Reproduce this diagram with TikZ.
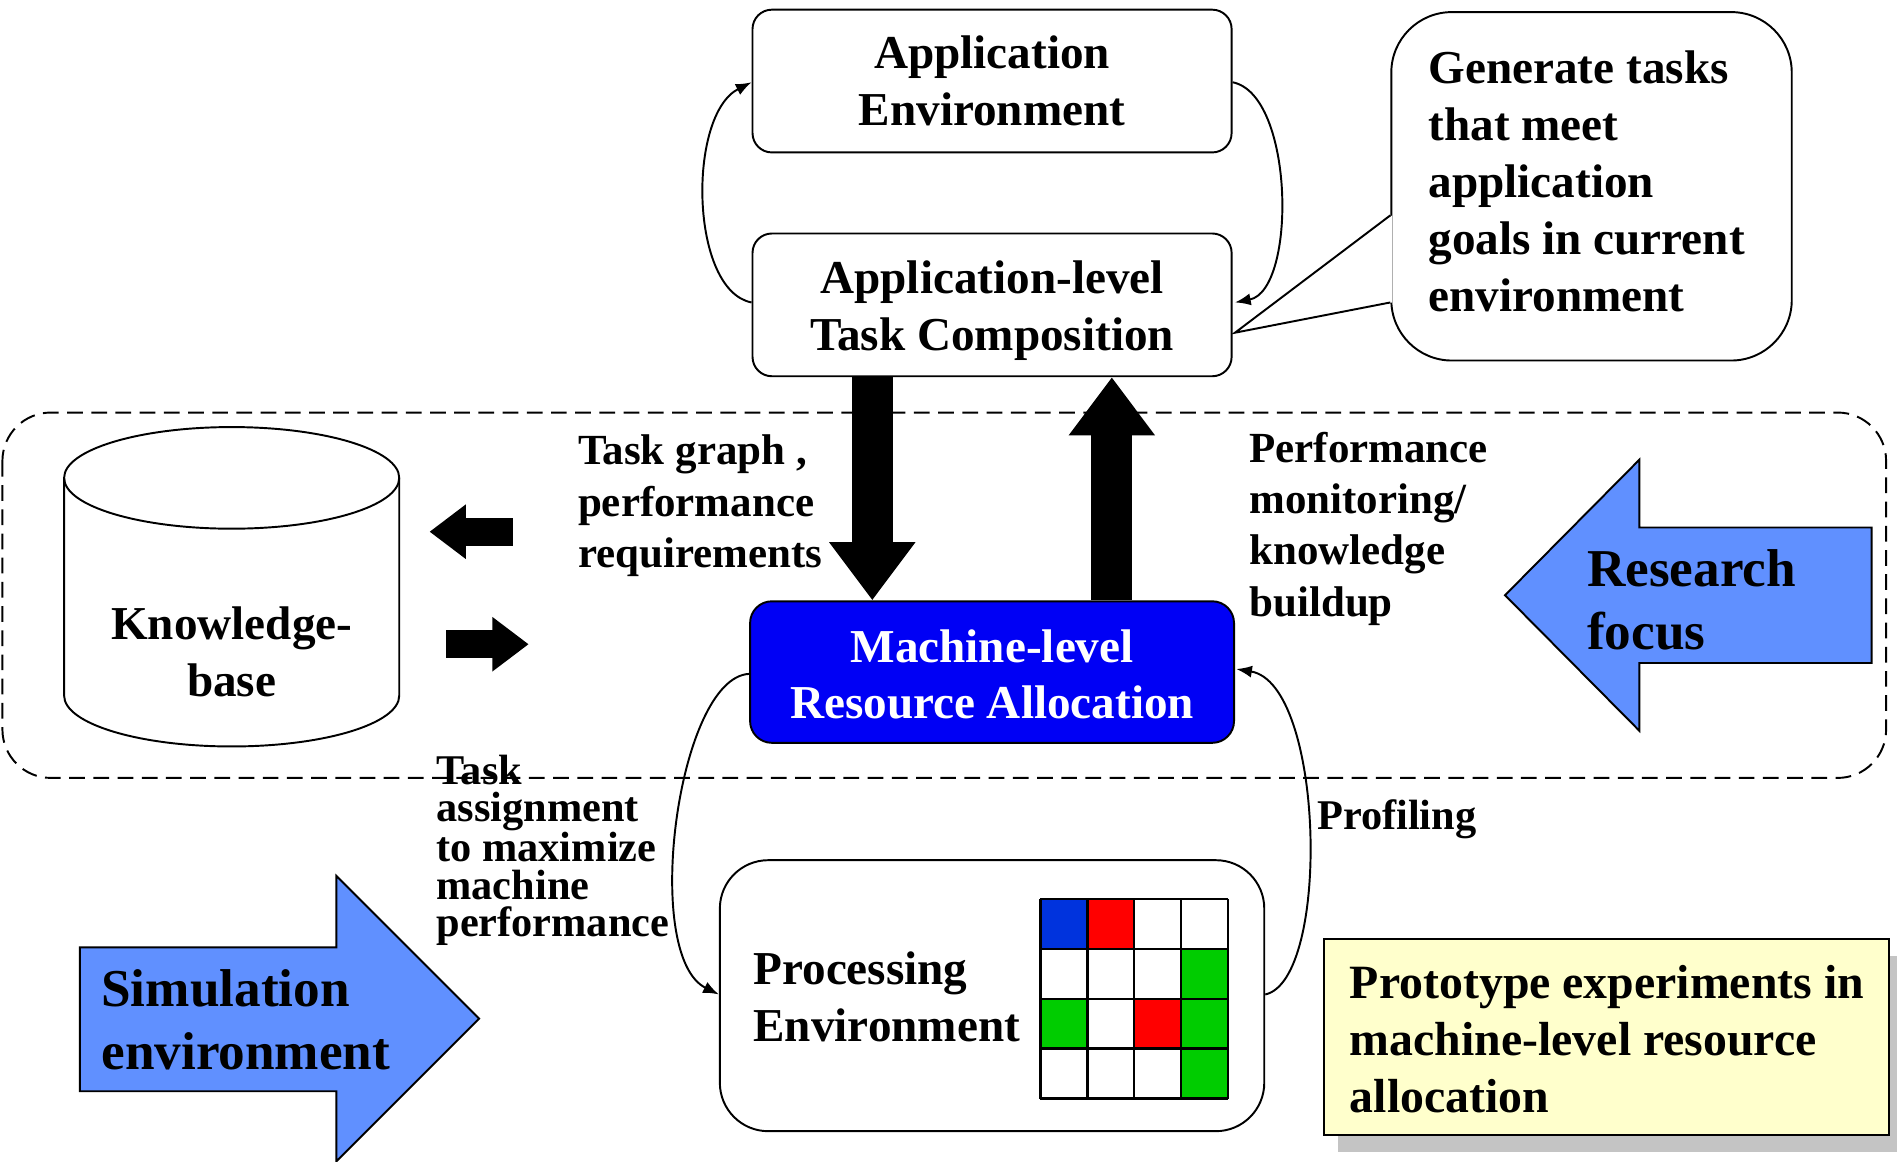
\documentclass[tikz,border=0pt]{standalone}
\usepackage{fontspec}
\setmainfont{Liberation Serif}
\usetikzlibrary{arrows.meta,calc}

\definecolor{focusblue}{RGB}{96,144,255}
\definecolor{machblue}{RGB}{0,0,245}
\definecolor{cellblue}{RGB}{0,51,221}
\definecolor{cellred}{RGB}{255,0,0}
\definecolor{cellgreen}{RGB}{0,204,0}
\definecolor{noteyellow}{RGB}{255,255,204}
\definecolor{shadowgray}{RGB}{196,196,196}

% type sizes (1 unit = 1pt)
\newcommand\txtA{\fontsize{39}{47}\selectfont\bfseries}
\newcommand\txtB{\fontsize{35.5}{42.5}\selectfont\bfseries}
\newcommand\txtC{\fontsize{35}{31}\selectfont\bfseries}
\newcommand\txtD{\fontsize{44}{52.5}\selectfont\bfseries}

\begin{document}
\begin{tikzpicture}[x=1pt,y=-1pt,line width=1.6pt,
  rbox/.style={draw,fill=white,align=center,inner sep=0pt,font=\txtA},
  txtnode/.style={anchor=west,align=left,inner sep=0pt},
  conn/.style={line width=1.6pt,-{Latex[length=13pt,width=10pt]}},
  bigarrow/.style={line width=34pt,-{Triangle[length=48pt,width=68pt]}},
  smallarrow/.style={line width=23pt,-{Triangle[length=30pt,width=43pt]}},
  bluearrow/.style={draw,fill=focusblue,line width=1.6pt,line join=miter},
]
\useasboundingbox (0,0) rectangle (1568,960);

% research-focus region
\draw[dash pattern=on 13pt off 7pt,rounded corners=40pt] (2,341) rectangle (1559,643);

% application layer
\node[rbox,rounded corners=16pt,minimum width=396pt,minimum height=118pt] (ae) at (820,67) {Application\\Environment};
\node[rbox,rounded corners=16pt,minimum width=396pt,minimum height=118pt] (tc) at (820,252) {};
\node[align=center,inner sep=0pt,font=\txtA] (tct) at (820,257) {Application-level\\Task Composition};

% machine layer
\node[rbox,fill=machblue,text=white,rounded corners=18pt,minimum width=400pt,minimum height=117pt] (mr) at (820,555.5) {};
\node[align=center,inner sep=0pt,font=\txtA,text=white] (mrt) at (820,557.5) {Machine-level\\Resource Allocation};

% processing environment
\node[draw,fill=white,rounded corners=40pt,minimum width=450pt,minimum height=224pt,inner sep=0pt] (pe) at (820,823) {};
\node[txtnode,font=\txtA] (pet) at (622,824) {Processing\\Environment};

% processor grid
\foreach \c/\r/\col in {0/0/cellblue,1/0/cellred,3/1/cellgreen,0/2/cellgreen,2/2/cellred,3/2/cellgreen,3/3/cellgreen}
  \fill[\col] ({860+\c*38.75},{743+\r*41.25}) rectangle ++(38.75,41.25);
\foreach \i in {0,...,4} {
  \draw[line width=2pt] ({860+\i*38.75},743) -- ++(0,165);
  \draw[line width=2pt] (860,{743+\i*41.25}) -- ++(155,0);
}

% loops between layers
\draw[conn] (tc.west |- 0,250) .. controls (570,240) and (568,95) .. (ae.west |- 0,68);
\draw[conn] (ae.east |- 0,68) .. controls (1070,78) and (1072,240) .. ($(tc.east |- 0,250)+(2,0)$);
\draw[conn] (mr.west |- 0,557) .. controls (560,560) and (530,790) .. (pe.west |- 0,822);
\draw[conn] (pe.east |- 0,822) .. controls (1100,810) and (1095,565) .. ($(mr.east |- 0,553)+(1,0)$);

% main data flow arrows
\draw[bigarrow] ($(tc.south)+(-99,0)$) -- ($(mr.north)+(-99,0)$);
\draw[bigarrow] ($(mr.north)+(99,0)$) -- ($(tc.south)+(99,0)$);

% knowledge base
\fill[white] (53,395) -- (53,575) arc[start angle=180,end angle=360,x radius=138.5pt,y radius=42pt] -- (330,395) -- cycle;
\draw (53,395) -- (53,575) arc[start angle=180,end angle=360,x radius=138.5pt,y radius=42pt] -- (330,395);
\draw (191.5,395) ellipse[x radius=138.5pt,y radius=42pt];
\node[align=center,inner sep=0pt,font=\txtA] (kb) at (191.5,539) {Knowledge-\\base};

\coordinate (kin0) at (424,439.5);
\coordinate (kin1) at (355,439.5);
\coordinate (kout0) at (369,532.5);
\coordinate (kout1) at (437,532.5);
\draw[smallarrow] (kin0) -- (kin1);
\draw[smallarrow] (kout0) -- (kout1);

% flow labels
\node[txtnode,font=\txtB] (lbl1) at (477,418) {Task graph ,\\performance\\requirements};
\node[txtnode,font=\txtB] (lbl2) at (1032,437) {Performance\\monitoring/\\knowledge\\buildup};
\node[txtnode,font=\txtC] (lbl3) at (360,703) {Task\\assignment\\to maximize\\machine\\performance};
\node[txtnode,font=\txtC] (lbl4) at (1088,677) {Profiling};

% callout
\node[draw,fill=white,rounded corners=50pt,minimum width=331pt,minimum height=288pt,inner sep=0pt] (gen) at (1315.5,154) {};
\fill[white] ($(gen.west)+(1.5,24)$) -- ($(tc.east)+(2,23)$) -- ($(gen.west)+(1.5,96)$) -- cycle;
\draw[line join=miter] ($(gen.west)+(0,24)$) -- ($(tc.east)+(2,23)$) -- ($(gen.west)+(0,96)$);
\node[txtnode,font=\txtA] (gent) at (1180,150) {Generate tasks\\that meet\\application\\goals in current\\environment};

% block arrows
\draw[bluearrow] (1547,436) -- (1355,436) -- (1355,380) -- (1244,492) -- (1355,604) -- (1355,548) -- (1547,548) -- cycle;
\node[txtnode,font=\txtD] (rf) at (1311,496) {Research\\focus};
\draw[bluearrow] (66,783) -- (278,783) -- (278,724) -- (396,842) -- (278,960) -- (278,902) -- (66,902) -- cycle;
\node[txtnode,font=\txtD] (se) at (83,843) {Simulation\\environment};

% prototype note
\fill[shadowgray] (1106,790) rectangle (1573,952);
\node[draw,fill=noteyellow,minimum width=467pt,minimum height=162pt,inner sep=0pt] (proto) at (1327.5,857) {};
\node[txtnode,font=\fontsize{39.5}{47}\selectfont\bfseries] (protot) at (1115,859) {Prototype experiments in\\machine-level resource\\allocation};
\end{tikzpicture}
\end{document}
